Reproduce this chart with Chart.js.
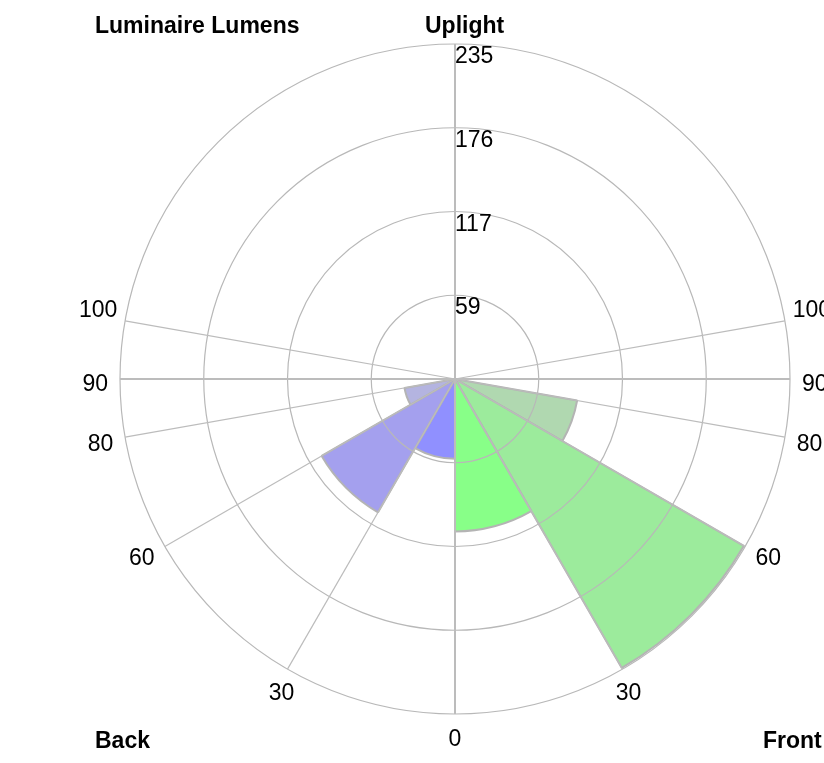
<!DOCTYPE html>
<html>
<head>
<meta charset="utf-8">
<title>Luminaire Lumens</title>
<script src="https://cdn.jsdelivr.net/npm/chart.js@4.4.1/dist/chart.umd.min.js"></script>
<style>
  html, body { margin: 0; padding: 0; background: #fff; overflow: hidden; }
  #wrap { position: relative; width: 824px; height: 763px; }
</style>
</head>
<body>
<div id="wrap"><canvas id="lumens"></canvas></div>
<script>
// zonal lumens, clockwise from straight up: front half first, then back
const zones = ['UH', 'UL', 'FVH', 'FH', 'FM', 'FL', 'BL', 'BM', 'BH', 'BVH', 'UL', 'UH'];
const zoneSpan = [80, 10, 10, 20, 30, 30, 30, 30, 20, 10, 10, 80];
const lumens = [0, 0, 0, 87, 234, 107, 56, 108, 36, 0, 0, 0];

// rings and the numbers printed beside them
const ringValues = [58.75, 117.5, 176.25, 235];
const ringLabels = ['59', '117', '176', '235'];

// one slot per 10 degrees, clockwise from the top; empty slots get no spoke
const spokeLabels = [
  'Uplight', '', '', '', '', '', '', '', '100', '90', '80', '', '60', '', '', '30', '', '',
  '0', '', '', '30', '', '', '60', '', '80', '90', '100', '', '', '', '', '', '', ''
];

const zoneColors = [
  'transparent', 'transparent', 'transparent', '#b0d8b0', '#9ceb9c', '#88ff88',
  '#9090ff', '#a4a0ee', '#b4b4e0', 'transparent', 'transparent', 'transparent'
];

const FONT = '"Liberation Sans", Arial, sans-serif';

const zoneText = {
  id: 'zoneText',
  afterDraw(chart) {
    const r = chart.scales.r;
    const ctx = chart.ctx;
    const cx = r.xCenter, cy = r.yCenter, R = r.drawingArea;
    ctx.save();
    ctx.fillStyle = '#000';
    ctx.textBaseline = 'alphabetic';

    // ring values run up the vertical spoke, just under each ring
    ctx.font = '23px ' + FONT;
    ctx.textAlign = 'left';
    ringValues.forEach((v, i) => {
      const y = cy - r.getDistanceFromCenterForValue(v);
      ctx.fillText(ringLabels[i], cx, y + 19);
    });

    // angle labels outside the rim
    const dist = R + 12;
    spokeLabels.forEach((txt, i) => {
      if (!txt) return;
      const p = r.getPointPosition(i, dist);
      const deg = i * 10;
      const left = deg > 180;
      if (deg === 0) {
        ctx.font = 'bold 23px ' + FONT;
        ctx.textAlign = 'left';
        ctx.fillText(txt, p.x - 30, p.y + 1);
        return;
      }
      ctx.font = '23px ' + FONT;
      if (deg === 180 || deg === 150 || deg === 210) {
        ctx.textAlign = 'center';
        ctx.fillText(txt, p.x, p.y + 20);
      } else if (deg === 80 || deg === 280) {
        ctx.textAlign = left ? 'right' : 'left';
        ctx.fillText(txt, p.x + (left ? 4 : -4), p.y - 2);
      } else {
        ctx.textAlign = left ? 'right' : 'left';
        ctx.fillText(txt, p.x, p.y + 12);
      }
    });

    // corner captions
    ctx.font = 'bold 23px ' + FONT;
    ctx.textAlign = 'left';
    ctx.fillText('Luminaire Lumens', cx - R - 25, 33);
    ctx.fillText('Back', cx - R - 25, cy + R + 34);
    ctx.fillText('Front', cx + R - 27, cy + R + 34);
    ctx.restore();
  }
};

const mainSpokes = [0, 9, 18, 27];

new Chart(document.getElementById('lumens'), {
  type: 'polarArea',
  data: {
    labels: zones,
    datasets: [{
      data: lumens,
      angle: zoneSpan,
      backgroundColor: zoneColors,
      borderColor: '#b4b4b4',
      borderWidth: 2
    }]
  },
  options: {
    responsive: true,
    maintainAspectRatio: false,
    animation: false,
    layout: { padding: { left: 120, right: 34, top: 44, bottom: 49 } },
    plugins: {
      legend: { display: false },
      tooltip: { enabled: false }
    },
    scales: {
      r: {
        min: 0,
        max: 235,
        startAngle: 0,
        labels: spokeLabels,
        afterBuildTicks: (scale) => {
          scale.ticks = [0, ...ringValues].map(v => ({ value: v }));
        },
        ticks: { display: false },
        pointLabels: { display: false },
        // rings and spokes sit on top of the wedges
        grid: { circular: true, color: '#b8b8b8', lineWidth: 1.2, z: 1 },
        angleLines: {
          display: true,
          color: '#bcbcbc',
          lineWidth: (ctx) => {
            if (mainSpokes.includes(ctx.index)) return 2;
            return spokeLabels[ctx.index] ? 1.2 : 0;
          }
        }
      }
    }
  },
  plugins: [zoneText]
});
</script>
</body>
</html>
